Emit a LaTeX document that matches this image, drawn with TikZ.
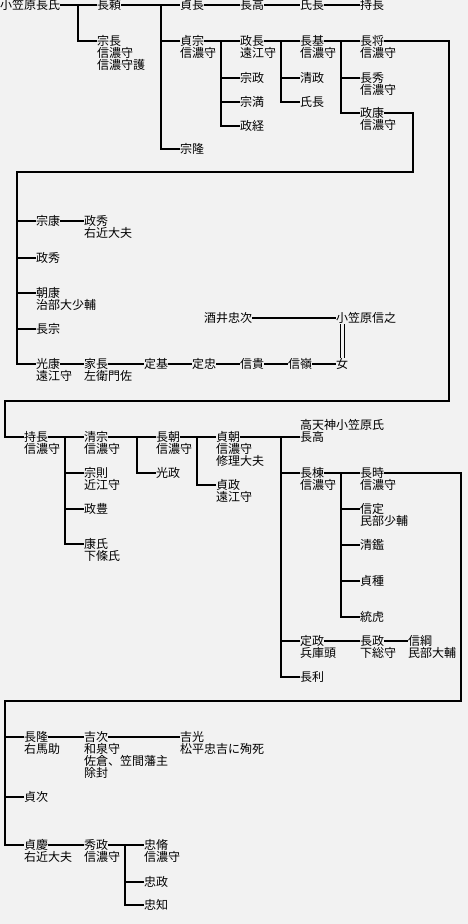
\documentclass[tikz,border=0pt]{standalone}
\usepackage{fontspec}
\usepackage{xcolor}
\usepackage{tikz}
\usetikzlibrary{calc}
\newfontfamily\jp{Noto Sans CJK JP}
\newcommand\kanji{\jp\fontsize{12}{12}\selectfont\lineskiplimit=-6pt}
\definecolor{paper}{HTML}{F2F2F2}
\begin{document}
\begin{tikzpicture}[x=1pt, y=-1pt,
  every node/.style={font=\kanji},
  pn/.style={inner sep=0pt, anchor=west, text height=10.5pt, text depth=1.5pt},
  sub/.style={inner sep=0pt, anchor=north west, align=left},
  ln/.style={line width=2pt},
  br/.style={to path={-- ++(-19,0) |- (\tikztotarget)}},
  dbl/.style={double=paper, double distance=3pt, line width=0.8pt}
]
\fill[paper] (0,0) rectangle (468,924);
\useasboundingbox (0,0) rectangle (468,924);

\node[pn] (nagauji) at (0,5) {小笠原長氏};
\node[pn] (nagayori) at (97,5) {長頼};
\node[pn] (sadanaga) at (180,5) {貞長};
\node[pn] (nagataka) at (240,5) {長高};
\node[pn] (ujinaga) at (300,5) {氏長};
\node[pn] (mochinaga) at (360,5) {持長};
\node[pn, label={[sub]south west:信濃守\\信濃守護}] (munenaga) at (97,41) {宗長};
\node[pn, label={[sub]south west:信濃守}] (sadamune) at (180,41) {貞宗};
\node[pn] (munetaka) at (180,149) {宗隆};
\node[pn, label={[sub]south west:遠江守}] (masanaga) at (240,41) {政長};
\node[pn] (munemasa) at (240,78) {宗政};
\node[pn] (munemitsu) at (240,102) {宗満};
\node[pn] (masatsune) at (240,126) {政経};
\node[pn, label={[sub]south west:信濃守}] (nagamoto) at (300,41) {長基};
\node[pn] (kiyomasa) at (300,78) {清政};
\node[pn] (ujinaga2) at (300,102) {氏長};
\node[pn, label={[sub]south west:信濃守}] (nagamasa) at (360,41) {長将};
\node[pn, label={[sub]south west:信濃守}] (nagahide) at (360,78) {長秀};
\node[pn, label={[sub]south west:信濃守}] (masayasu) at (360,113) {政康};

\draw[ln] (nagauji.east) -- (nagayori.west);
\draw[ln] (munenaga.west) to[br] (nagauji.east);
\draw[ln] (nagayori.east) -- (sadanaga.west);
\draw[ln] (sadamune.west) to[br] (nagayori.east);
\draw[ln] (munetaka.west) to[br] (nagayori.east);
\draw[ln] (sadanaga.east) -- (nagataka.west);
\draw[ln] (nagataka.east) -- (ujinaga.west);
\draw[ln] (ujinaga.east) -- (mochinaga.west);
\draw[ln] (sadamune.east) -- (masanaga.west);
\draw[ln] (munemasa.west) to[br] (sadamune.east);
\draw[ln] (munemitsu.west) to[br] (sadamune.east);
\draw[ln] (masatsune.west) to[br] (sadamune.east);
\draw[ln] (masanaga.east) -- (nagamoto.west);
\draw[ln] (kiyomasa.west) to[br] (masanaga.east);
\draw[ln] (ujinaga2.west) to[br] (masanaga.east);
\draw[ln] (nagamoto.east) -- (nagamasa.west);
\draw[ln] (nagahide.west) to[br] (nagamoto.east);
\draw[ln] (masayasu.west) to[br] (nagamoto.east);

\node[pn] (muneyasu) at (36,221) {宗康};
\node[pn, label={[sub]south west:右近大夫}] (masahide) at (84,221) {政秀};
\node[pn] (masahide2) at (36,258) {政秀};
\node[pn, label={[sub]south west:治部大少輔}] (tomoyasu) at (36,293) {朝康};
\node[pn] (nagamune) at (36,329) {長宗};
\node[pn, label={[sub]south west:遠江守}] (mitsuyasu) at (36,364) {光康};
\node[pn, label={[sub]south west:左衛門佐}] (ienaga) at (84,364) {家長};
\node[pn] (sadamoto) at (144,364) {定基};
\node[pn] (sadatada) at (192,364) {定忠};
\node[pn] (nobutaka) at (240,364) {信貴};
\node[pn] (nobumine) at (288,364) {信嶺};
\node[pn] (onna) at (336,364) {女};
\node[pn] (tadatsugu) at (204,318) {酒井忠次};
\node[pn] (nobuyuki) at (336,318) {小笠原信之};

\coordinate (ra) at (413,172);
\coordinate (la) at (17,172);
\draw[ln] (masayasu.east) -| (ra) -- (la) |- (mitsuyasu.west);
\draw[ln] (muneyasu.west) to[br] (la);
\draw[ln] (masahide2.west) to[br] (la);
\draw[ln] (tomoyasu.west) to[br] (la);
\draw[ln] (nagamune.west) to[br] (la);
\draw[ln] (muneyasu.east) -- (masahide.west);
\draw[ln] (mitsuyasu.east) -- (ienaga.west);
\draw[ln] (ienaga.east) -- (sadamoto.west);
\draw[ln] (sadamoto.east) -- (sadatada.west);
\draw[ln] (sadatada.east) -- (nobutaka.west);
\draw[ln] (nobutaka.east) -- (nobumine.west);
\draw[ln] (nobumine.east) -- (onna.west);
\draw[ln] (tadatsugu.east) -- (nobuyuki.west);
\draw[dbl] (onna.north) -- (onna.north |- nobuyuki.south);

\node[pn, label={[sub]south west:信濃守}] (mochinaga2) at (24,437) {持長};
\node[pn, label={[sub]south west:信濃守}] (kiyomune) at (84,437) {清宗};
\node[pn, label={[sub]south west:近江守}] (munenori) at (84,473) {宗則};
\node[pn] (masatoyo) at (84,509) {政豊};
\node[pn, label={[sub]south west:下條氏}] (yasuuji) at (84,544) {康氏};
\node[pn, label={[sub]south west:信濃守}] (nagatomo) at (156,437) {長朝};
\node[pn] (mitsumasa) at (156,473) {光政};
\node[pn, label={[sub]south west:信濃守\\修理大夫}] (sadatomo) at (216,437) {貞朝};
\node[pn, label={[sub]south west:遠江守}] (sadamasa) at (216,485) {貞政};
\node[pn, label={[sub, anchor=south west]north west:高天神小笠原氏}] (nagataka2) at (300,437) {長高};
\node[pn, label={[sub]south west:信濃守}] (nagamune2) at (300,473) {長棟};
\node[pn, label={[sub]south west:信濃守}] (nagatoki) at (360,473) {長時};
\node[pn, label={[sub]south west:民部少輔}] (nobusada) at (360,509) {信定};
\node[pn] (kiyoaki) at (360,545) {清鑑};
\node[pn] (sadatane) at (360,581) {貞種};
\node[pn] (munetora) at (360,617) {統虎};
\node[pn, label={[sub]south west:兵庫頭}] (sadamasa2) at (300,641) {定政};
\node[pn, label={[sub]south west:下総守}] (nagamasa2) at (360,641) {長政};
\node[pn, label={[sub]south west:民部大輔}] (nobutsuna) at (408,641) {信綱};
\node[pn] (nagatoshi) at (300,677) {長利};

\coordinate (rb) at (449,401);
\coordinate (lb) at (5,401);
\draw[ln] (nagamasa.east) -| (rb) -- (lb) |- (mochinaga2.west);
\draw[ln] (mochinaga2.east) -- (kiyomune.west);
\draw[ln] (munenori.west) to[br] (mochinaga2.east);
\draw[ln] (masatoyo.west) to[br] (mochinaga2.east);
\draw[ln] (yasuuji.west) to[br] (mochinaga2.east);
\draw[ln] (kiyomune.east) -- (nagatomo.west);
\draw[ln] (mitsumasa.west) to[br] (kiyomune.east);
\draw[ln] (nagatomo.east) -- (sadatomo.west);
\draw[ln] (sadamasa.west) to[br] (nagatomo.east);
\draw[ln] (sadatomo.east) -- (nagataka2.west);
\draw[ln] (nagamune2.west) to[br] (sadatomo.east);
\draw[ln] (sadamasa2.west) to[br] (sadatomo.east);
\draw[ln] (nagatoshi.west) to[br] (sadatomo.east);
\draw[ln] (nagamune2.east) -- (nagatoki.west);
\draw[ln] (nobusada.west) to[br] (nagamune2.east);
\draw[ln] (kiyoaki.west) to[br] (nagamune2.east);
\draw[ln] (sadatane.west) to[br] (nagamune2.east);
\draw[ln] (munetora.west) to[br] (nagamune2.east);
\draw[ln] (sadamasa2.east) -- (nagamasa2.west);
\draw[ln] (nagamasa2.east) -- (nobutsuna.west);

\node[pn, label={[sub]south west:右馬助}] (nagataka3) at (24,737) {長隆};
\node[pn, label={[sub]south west:和泉守\\佐倉、笠間藩主\\除封}] (yoshitsugu) at (84,737) {吉次};
\node[pn, label={[sub]south west:松平忠吉に殉死}] (yoshimitsu) at (180,737) {吉光};
\node[pn] (sadatsugu) at (24,797) {貞次};
\node[pn, label={[sub]south west:右近大夫}] (sadayoshi) at (24,845) {貞慶};
\node[pn, label={[sub]south west:信濃守}] (hidemasa) at (84,845) {秀政};
\node[pn, label={[sub]south west:信濃守}] (tadanaga) at (144,845) {忠脩};
\node[pn] (tadamasa) at (144,882) {忠政};
\node[pn] (tadatomo) at (144,905) {忠知};

\coordinate (rc) at (461,701);
\coordinate (lc) at (5,701);
\draw[ln] (nagatoki.east) -| (rc) -- (lc) |- (sadayoshi.west);
\draw[ln] (nagataka3.west) to[br] (lc);
\draw[ln] (sadatsugu.west) to[br] (lc);
\draw[ln] (nagataka3.east) -- (yoshitsugu.west);
\draw[ln] (yoshitsugu.east) -- (yoshimitsu.west);
\draw[ln] (sadayoshi.east) -- (hidemasa.west);
\draw[ln] (hidemasa.east) -- (tadanaga.west);
\draw[ln] (tadamasa.west) to[br] (hidemasa.east);
\draw[ln] (tadatomo.west) to[br] (hidemasa.east);
\end{tikzpicture}
\end{document}
